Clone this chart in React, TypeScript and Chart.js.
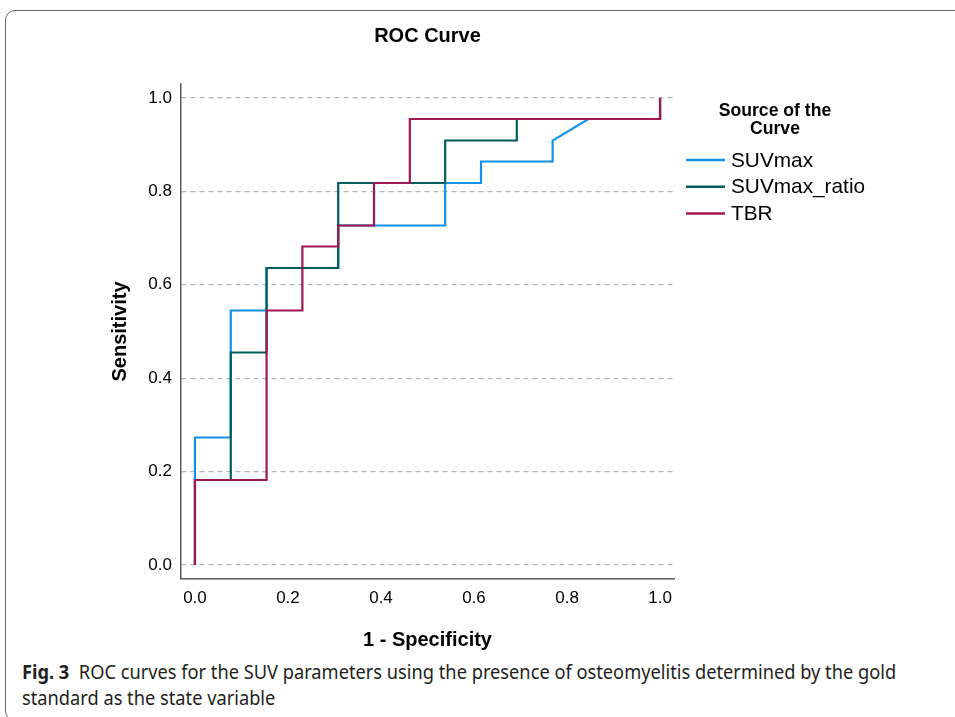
import React, { useEffect, useRef } from "react";
import { Chart, registerables } from "chart.js";

Chart.register(...registerables);

// ---- Data ----
const seriesNames = ["SUVmax", "SUVmax_ratio", "TBR"];
const seriesColors = ["#1192e8", "#005d5d", "#9f1853"];

// 1 - Specificity (x) and Sensitivity (y) corner points of each ROC step curve
const suvmaxX = [0, 0, 0.077, 0.077, 0.154, 0.154, 0.308, 0.308, 0.538, 0.538, 0.615, 0.615, 0.769, 0.769, 0.846, 1, 1];
const suvmaxY = [0, 0.273, 0.273, 0.545, 0.545, 0.636, 0.636, 0.727, 0.727, 0.818, 0.818, 0.864, 0.864, 0.909, 0.955, 0.955, 1];

const ratioX = [0, 0, 0.077, 0.077, 0.154, 0.154, 0.308, 0.308, 0.538, 0.538, 0.692, 0.692, 1, 1];
const ratioY = [0, 0.182, 0.182, 0.455, 0.455, 0.636, 0.636, 0.818, 0.818, 0.909, 0.909, 0.955, 0.955, 1];

const tbrX = [0, 0, 0.154, 0.154, 0.231, 0.231, 0.308, 0.308, 0.385, 0.385, 0.462, 0.462, 1, 1];
const tbrY = [0, 0.182, 0.182, 0.545, 0.545, 0.682, 0.682, 0.727, 0.727, 0.818, 0.818, 0.955, 0.955, 1];

const tickValues = [0, 0.2, 0.4, 0.6, 0.8, 1.0];

const chartTitle = "ROC Curve";
const xTitle = "1 - Specificity";
const yTitle = "Sensitivity";
const legendTitle = ["Source of the", "Curve"];

const FONT = "'Liberation Sans', Arial, Helvetica, sans-serif";

const toPoints = (xs: number[], ys: number[]) => xs.map((x, i) => ({ x, y: ys[i] }));

const legendPlugin = {
  id: "rocLegend",
  afterDraw(chart: any) {
    const ctx = chart.ctx as CanvasRenderingContext2D;
    ctx.save();
    ctx.fillStyle = "#000";
    ctx.textAlign = "center";
    ctx.textBaseline = "middle";
    ctx.font = `bold 17.6px ${FONT}`;
    legendTitle.forEach((t, i) => ctx.fillText(t, 775, 111 + i * 18.5));
    chart.data.datasets.forEach((ds: any, i: number) => {
      const y = 160 + i * 26.7;
      ctx.strokeStyle = ds.borderColor;
      ctx.lineWidth = 2.5;
      ctx.beginPath();
      ctx.moveTo(686, y);
      ctx.lineTo(725, y);
      ctx.stroke();
      ctx.textAlign = "left";
      ctx.font = `20.8px ${FONT}`;
      ctx.fillText(ds.label, 731, y + 1);
    });
    ctx.restore();
  },
};

function RocChart() {
  const ref = useRef<HTMLCanvasElement | null>(null);
  useEffect(() => {
    if (!ref.current) return;
    const xs = [suvmaxX, ratioX, tbrX];
    const ys = [suvmaxY, ratioY, tbrY];
    const chart = new Chart(ref.current, {
      type: "scatter",
      data: {
        datasets: seriesNames.map((name, i) => ({
          label: name,
          data: toPoints(xs[i], ys[i]),
          showLine: true,
          borderColor: seriesColors[i],
          backgroundColor: seriesColors[i],
          borderWidth: 2.2,
          pointRadius: 0,
          pointHoverRadius: 0,
          tension: 0,
          order: 3 - i,
        })),
      },
      options: {
        responsive: false,
        animation: false,
        layout: { padding: { left: 0, right: 281, top: 0, bottom: 0 } },
        plugins: {
          legend: { display: false },
          tooltip: { enabled: false },
          title: {
            display: true,
            text: chartTitle,
            fullSize: false,
            color: "#000",
            font: { family: FONT, size: 20, weight: "bold" },
            padding: { top: 24, bottom: 36 },
          },
        },
        scales: {
          x: {
            type: "linear",
            min: -0.03,
            max: 1.03,
            afterBuildTicks: (scale: any) => {
              scale.ticks = tickValues.map((v) => ({ value: v }));
            },
            afterFit: (scale: any) => {
              scale.height = 76;
            },
            grid: { display: false, drawTicks: false },
            border: { display: true, color: "#5a5a5a", width: 1.5 },
            ticks: {
              color: "#000",
              padding: 9,
              font: { family: FONT, size: 17 },
              callback: (v: any) => Number(v).toFixed(1),
            },
            title: {
              display: true,
              text: xTitle,
              color: "#000",
              font: { family: FONT, size: 20, weight: "bold" },
              padding: { top: 0, bottom: 3 },
            },
          },
          y: {
            type: "linear",
            min: -0.03,
            max: 1.03,
            afterBuildTicks: (scale: any) => {
              scale.ticks = tickValues.map((v) => ({ value: v }));
            },
            afterFit: (scale: any) => {
              scale.width = 181;
            },
            grid: { display: true, drawTicks: false, color: "#b3b3b3", lineWidth: 1.3 },
            border: { display: true, color: "#5a5a5a", width: 1.5, dash: [5, 4] },
            ticks: {
              color: "#000",
              padding: 9,
              font: { family: FONT, size: 17 },
              callback: (v: any) => Number(v).toFixed(1),
            },
            title: {
              display: true,
              text: yTitle,
              color: "#000",
              font: { family: FONT, size: 20, weight: "bold" },
              padding: { top: 108, bottom: 0 },
            },
          },
        },
      },
      plugins: [legendPlugin],
    } as any);
    return () => chart.destroy();
  }, []);
  return <canvas ref={ref} width={955} height={655} style={{ position: "absolute", left: 0, top: 0 }} />;
}

export default function App() {
  return (
    <div style={{ position: "absolute", left: 0, top: 0, width: 955, height: 717, overflow: "hidden", background: "#fff" }}>
      <div
        style={{
          position: "absolute",
          left: 5,
          top: 10,
          width: 1000,
          height: 711,
          border: "1.3px solid #6b6b6b",
          borderRadius: 10,
          boxSizing: "border-box",
        }}
      />
      <RocChart />
      <div
        style={{
          position: "absolute",
          left: 22,
          top: 659,
          whiteSpace: "nowrap",
          fontFamily: "'Noto Sans', sans-serif",
          fontSize: 19,
          lineHeight: "26px",
          color: "#231f20",
          transform: "scaleX(0.96)",
          transformOrigin: "left top",
        }}
      >
        <b>Fig. 3</b>&nbsp; ROC curves for the SUV parameters using the presence of osteomyelitis determined by the gold
        <br />
        standard as the state variable
      </div>
    </div>
  );
}
